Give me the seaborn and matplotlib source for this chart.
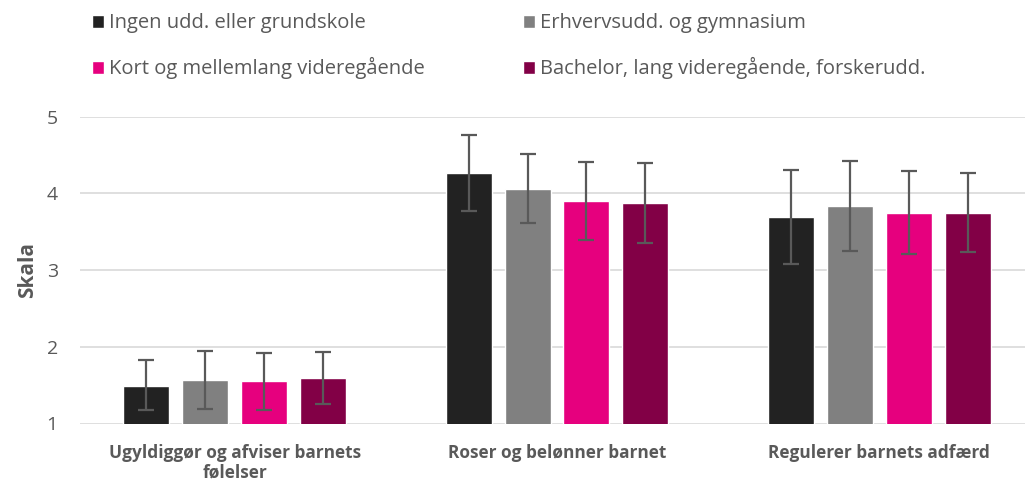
import pandas as pd
import matplotlib.pyplot as plt
import seaborn as sns

# Data
categories = ['Ugyldiggør og afviser barnets\nfølelser', 'Roser og belønner barnet', 'Regulerer barnets adfærd']
groups = ['Ingen udd. eller grundskole', 'Erhvervsudd. og gymnasium',
          'Kort og mellemlang videregående', 'Bachelor, lang videregående, forskerudd.']
colors = ['#222222', '#808080', '#E6007E', '#820046']

# mean value per group, one list per category
means_cat1 = [1.49, 1.57, 1.55, 1.59]
means_cat2 = [4.26, 4.06, 3.90, 3.87]
means_cat3 = [3.69, 3.83, 3.74, 3.74]
# error bar ends
low_cat1 = [1.17, 1.19, 1.17, 1.25]
high_cat1 = [1.83, 1.95, 1.92, 1.93]
low_cat2 = [3.77, 3.61, 3.39, 3.35]
high_cat2 = [4.76, 4.51, 4.41, 4.40]
low_cat3 = [3.08, 3.25, 3.21, 3.23]
high_cat3 = [4.31, 4.42, 4.29, 4.26]

rows = []
for cat, m, lo, hi in zip(categories,
                          [means_cat1, means_cat2, means_cat3],
                          [low_cat1, low_cat2, low_cat3],
                          [high_cat1, high_cat2, high_cat3]):
    for g, mv, l, h in zip(groups, m, lo, hi):
        rows.append({'kategori': cat, 'gruppe': g, 'værdi': mv, 'lav': l, 'høj': h})
df = pd.DataFrame(rows)

sns.set_style('white')
plt.rcParams['font.family'] = ['Open Sans', 'DejaVu Sans']
text_col = '#595959'

fig = plt.figure(figsize=(10.25, 4.92), dpi=100)
ax = fig.add_axes([80 / 1025, (492 - 423.5) / 492, 954 / 1025, (423.5 - 116.7) / 492])

sns.barplot(data=df, x='kategori', y='værdi', hue='gruppe', hue_order=groups,
            order=categories, palette=colors, width=0.73, gap=0.22,
            errorbar=None, ax=ax, legend=True, saturation=1)

# asymmetric error bars placed on the bar centres seaborn drew
for container, g in zip(ax.containers, groups):
    sub = df[df['gruppe'] == g].set_index('kategori').loc[categories]
    xs = [p.get_x() + p.get_width() / 2 for p in container.patches]
    ax.errorbar(xs, sub['værdi'],
                yerr=[sub['værdi'] - sub['lav'], sub['høj'] - sub['værdi']],
                fmt='none', ecolor=text_col, elinewidth=1.6, capsize=5.5, capthick=1.6, zorder=5)

ax.set_ylim(1, 5)
ax.set_yticks([1, 2, 3, 4, 5])
ax.yaxis.grid(True, color='#d9d9d9', linewidth=1.2)
ax.set_axisbelow(True)
sns.despine(ax=ax, left=True, bottom=True, top=True, right=True)
ax.tick_params(axis='y', colors=text_col, labelsize=14, length=0, pad=16)
ax.tick_params(axis='x', colors=text_col, labelsize=12.4, length=0, pad=15)
for lab in ax.get_xticklabels():
    lab.set_fontweight('bold')
    lab.set_linespacing(1.1)
ax.set_xlabel('')
ax.set_ylabel('Skala', color=text_col, fontsize=15, fontweight='bold', labelpad=6)

handles, labels = ax.get_legend_handles_labels()
ax.get_legend().remove()
# row-wise order like the original legend
idx = [0, 2, 1, 3]
fig.legend([handles[i] for i in idx], [labels[i] for i in idx], loc='upper left',
           bbox_to_anchor=(74 / 1025, 1.01), ncol=2,
           frameon=False, fontsize=14.5, labelcolor=text_col, handlelength=0.6, handleheight=0.6,
           handletextpad=0.25, columnspacing=4.85, labelspacing=1.2)

fig.savefig('out.png', dpi=100)
